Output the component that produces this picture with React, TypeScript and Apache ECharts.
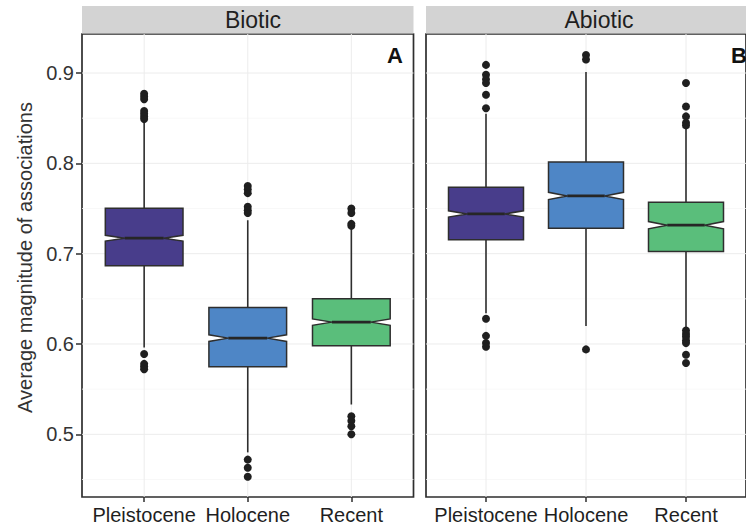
import React, { useEffect, useRef } from 'react';
import * as echarts from 'echarts';

// Periods on the x axis of both facets
const categories = ['Pleistocene', 'Holocene', 'Recent'];
const categoryPositions = [1, 2, 3];
const panelTitles = ['Biotic', 'Abiotic'];
const panelTags = ['A', 'B'];
const periodFills = ['#483D8B', '#4E86C6', '#5ABE7B'];

// y axis breaks
const yTicks = [0.5, 0.6, 0.7, 0.8, 0.9];
const yMinorTicks = [0.45, 0.55, 0.65, 0.75, 0.85];

// Biotic facet: box statistics per period
const bioticLowerWhisker = [0.596, 0.48, 0.533];
const bioticQ1 = [0.6865, 0.5748, 0.598];
const bioticMedian = [0.7171, 0.6065, 0.6242];
const bioticQ3 = [0.7503, 0.6404, 0.65];
const bioticUpperWhisker = [0.845, 0.737, 0.728];
const bioticNotch = [0.0032, 0.0037, 0.0035];
const bioticOutliers = [
  [0.877, 0.874, 0.871, 0.858, 0.855, 0.852, 0.849, 0.589, 0.578, 0.575, 0.572],
  [0.775, 0.771, 0.767, 0.752, 0.748, 0.745, 0.472, 0.463, 0.453],
  [0.75, 0.745, 0.733, 0.731, 0.52, 0.515, 0.509, 0.5],
];

// Abiotic facet: box statistics per period
const abioticLowerWhisker = [0.634, 0.62, 0.6176];
const abioticQ1 = [0.7153, 0.7282, 0.7023];
const abioticMedian = [0.744, 0.7639, 0.7315];
const abioticQ3 = [0.7736, 0.8015, 0.757];
const abioticUpperWhisker = [0.855, 0.901, 0.8388];
const abioticNotch = [0.0035, 0.004, 0.004];
const abioticOutliers = [
  [0.909, 0.898, 0.893, 0.889, 0.876, 0.861, 0.628, 0.609, 0.601, 0.597],
  [0.92, 0.915, 0.594],
  [0.889, 0.863, 0.852, 0.845, 0.842, 0.615, 0.611, 0.608, 0.604, 0.601, 0.588, 0.579],
];

const Y_MIN = 0.4306;
const Y_MAX = 0.9432;
const X_MIN = 0.4;
const X_MAX = 3.6;
const BOX_HALF = 0.375;

const PANEL_LEFT = [82, 426];
const PANEL_TOP = 34;
const PANEL_W = 331.5;
const PANEL_H = 463;

const FONT = 'Liberation Sans, Arial, Helvetica, sans-serif';
const INK = '#2e2e2e';

type Stats = {
  lo: number[]; q1: number[]; med: number[]; q3: number[]; hi: number[]; notch: number[];
};

const facets: { stats: Stats; outliers: number[][] }[] = [
  {
    stats: {
      lo: bioticLowerWhisker, q1: bioticQ1, med: bioticMedian,
      q3: bioticQ3, hi: bioticUpperWhisker, notch: bioticNotch,
    },
    outliers: bioticOutliers,
  },
  {
    stats: {
      lo: abioticLowerWhisker, q1: abioticQ1, med: abioticMedian,
      q3: abioticQ3, hi: abioticUpperWhisker, notch: abioticNotch,
    },
    outliers: abioticOutliers,
  },
];

function gridLineSeries(gi: number) {
  // [orientation (0 = horizontal, 1 = vertical), value, minor flag]
  const data = [
    ...yMinorTicks.map((v) => [0, v, 1]),
    ...yTicks.map((v) => [0, v, 0]),
    ...categoryPositions.map((x) => [1, x, 0]),
  ];
  return {
    type: 'custom',
    xAxisIndex: gi,
    yAxisIndex: gi,
    z: 1,
    silent: true,
    data,
    encode: { x: 1, y: 1 },
    renderItem: (_params: any, api: any) => {
      const orient = api.value(0);
      const v = api.value(1);
      const minor = api.value(2) === 1;
      const a = orient === 0 ? api.coord([X_MIN, v]) : api.coord([v, Y_MIN]);
      const b = orient === 0 ? api.coord([X_MAX, v]) : api.coord([v, Y_MAX]);
      return {
        type: 'line',
        shape: { x1: a[0], y1: a[1], x2: b[0], y2: b[1] },
        style: { stroke: minor ? '#F6F6F6' : '#ECECEC', lineWidth: minor ? 0.8 : 1 },
      };
    },
  };
}

function boxSeries(gi: number, s: Stats) {
  const data = categoryPositions.map((x, i) => [
    x, s.lo[i], s.q1[i], s.med[i], s.q3[i], s.hi[i], s.notch[i],
  ]);
  return {
    type: 'custom',
    xAxisIndex: gi,
    yAxisIndex: gi,
    z: 3,
    data,
    encode: { x: 0, y: [1, 2, 3, 4, 5] },
    renderItem: (params: any, api: any) => {
      const x = api.value(0);
      const lo = api.value(1);
      const q1 = api.value(2);
      const med = api.value(3);
      const q3 = api.value(4);
      const hi = api.value(5);
      const n = api.value(6);
      const c = (a: number, b: number) => api.coord([a, b]);
      const x0 = x - BOX_HALF;
      const x1 = x + BOX_HALF;
      const xi0 = x - BOX_HALF / 2;
      const xi1 = x + BOX_HALF / 2;
      const top = c(x, hi);
      const q3p = c(x, q3);
      const q1p = c(x, q1);
      const bot = c(x, lo);
      const pts = [
        c(x0, q3), c(x1, q3), c(x1, med + n), c(xi1, med), c(x1, med - n),
        c(x1, q1), c(x0, q1), c(x0, med - n), c(xi0, med), c(x0, med + n),
      ];
      const m0 = c(xi0, med);
      const m1 = c(xi1, med);
      const lineStyle = { stroke: INK, lineWidth: 1.6 };
      return {
        type: 'group',
        children: [
          { type: 'line', shape: { x1: top[0], y1: top[1], x2: q3p[0], y2: q3p[1] }, style: lineStyle },
          { type: 'line', shape: { x1: q1p[0], y1: q1p[1], x2: bot[0], y2: bot[1] }, style: lineStyle },
          {
            type: 'polygon',
            shape: { points: pts },
            style: { fill: periodFills[params.dataIndex], stroke: INK, lineWidth: 1.5 },
          },
          {
            type: 'line',
            shape: { x1: m0[0], y1: m0[1], x2: m1[0], y2: m1[1] },
            style: { stroke: '#262626', lineWidth: 2.8 },
          },
        ],
      };
    },
  };
}

function outlierSeries(gi: number, outliers: number[][]) {
  const data: number[][] = [];
  outliers.forEach((vals, i) => vals.forEach((v) => data.push([categoryPositions[i], v])));
  return {
    type: 'scatter',
    xAxisIndex: gi,
    yAxisIndex: gi,
    z: 4,
    symbol: 'circle',
    symbolSize: 8,
    itemStyle: { color: '#1f1f1f', opacity: 1 },
    data,
  };
}

export default function App() {
  const ref = useRef<HTMLDivElement>(null);

  useEffect(() => {
    if (!ref.current) return;
    const chart = echarts.init(ref.current, undefined, { renderer: 'svg' });

    const grids = PANEL_LEFT.map((left) => ({
      left,
      top: PANEL_TOP,
      width: PANEL_W,
      height: PANEL_H,
      show: true,
      backgroundColor: '#ffffff',
      borderColor: INK,
      borderWidth: 1.7,
    }));

    const xAxes = PANEL_LEFT.map((_, gi) => ({
      type: 'value',
      gridIndex: gi,
      min: X_MIN,
      max: X_MAX,
      axisLine: { show: false },
      splitLine: { show: false },
      axisTick: {
        show: true,
        customValues: categoryPositions,
        length: 5,
        lineStyle: { color: INK, width: 1.5 },
      },
      axisLabel: {
        customValues: categoryPositions,
        formatter: (v: number) => categories[Math.round(v) - 1] ?? '',
        fontSize: 20,
        fontFamily: FONT,
        color: '#1f1f1f',
        margin: 8,
      },
    }));

    const yAxes = PANEL_LEFT.map((_, gi) => ({
      type: 'value',
      gridIndex: gi,
      min: Y_MIN,
      max: Y_MAX,
      axisLine: { show: false },
      splitLine: { show: false },
      axisTick: {
        show: gi === 0,
        customValues: yTicks,
        length: 6,
        lineStyle: { color: INK, width: 1.5 },
      },
      axisLabel: {
        show: gi === 0,
        customValues: yTicks,
        formatter: (v: number) => v.toFixed(1),
        fontSize: 20,
        fontFamily: FONT,
        color: '#333333',
        margin: 8,
      },
    }));

    const series: any[] = [];
    facets.forEach((f, gi) => {
      series.push(gridLineSeries(gi));
      series.push(boxSeries(gi, f.stats));
      series.push(outlierSeries(gi, f.outliers));
    });

    const stripTextX = [253, 599];
    const tagX = [395, 739];

    const graphic: any[] = [];
    PANEL_LEFT.forEach((left, gi) => {
      graphic.push({
        type: 'rect',
        shape: { x: left, y: 6, width: PANEL_W, height: 27.5 },
        style: { fill: '#D3D3D3' },
        silent: true,
      });
      graphic.push({
        type: 'text',
        x: stripTextX[gi],
        y: 20,
        style: {
          text: panelTitles[gi],
          align: 'center',
          verticalAlign: 'middle',
          fontSize: 23,
          fontFamily: FONT,
          fill: '#1f1f1f',
        },
        silent: true,
      });
      graphic.push({
        type: 'text',
        x: tagX[gi],
        y: 55,
        z: 10,
        style: {
          text: panelTags[gi],
          align: 'center',
          verticalAlign: 'middle',
          fontSize: 22,
          fontWeight: 'bold',
          fontFamily: FONT,
          fill: '#111111',
        },
        silent: true,
      });
    });
    graphic.push({
      type: 'text',
      x: 25,
      y: 257.5,
      rotation: Math.PI / 2,
      style: {
        text: 'Average magnitude of associations',
        align: 'center',
        verticalAlign: 'middle',
        fontSize: 20,
        fontFamily: FONT,
        fill: '#333333',
      },
      silent: true,
    });

    chart.setOption({
      animation: false,
      backgroundColor: '#ffffff',
      grid: grids,
      xAxis: xAxes,
      yAxis: yAxes,
      series,
      graphic,
    });

    return () => chart.dispose();
  }, []);

  return (
    <div
      ref={ref}
      style={{
        position: 'fixed',
        left: 0,
        top: 0,
        width: 746,
        height: 529,
        overflow: 'hidden',
        background: '#ffffff',
      }}
    />
  );
}
